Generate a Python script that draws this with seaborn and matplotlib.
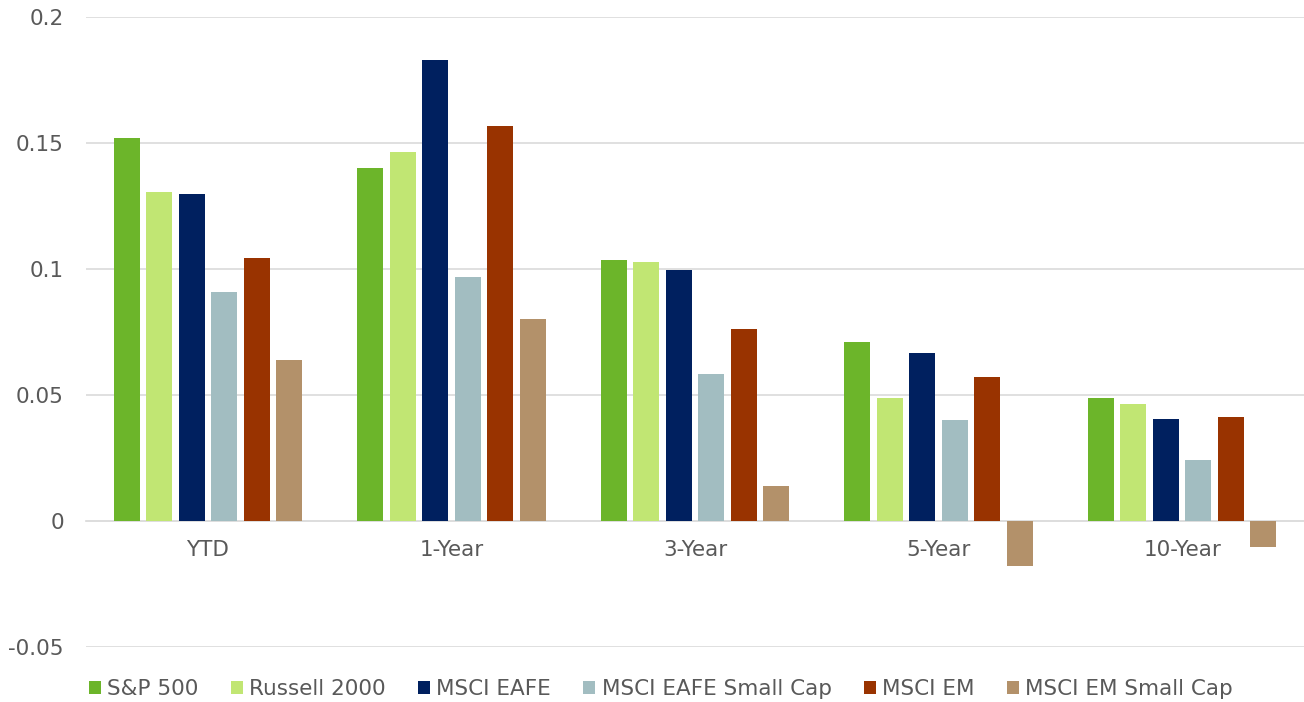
import matplotlib
matplotlib.use("Agg")
import matplotlib.pyplot as plt
import seaborn as sns
import pandas as pd
from matplotlib.ticker import FuncFormatter, MultipleLocator
from matplotlib.patches import Patch

periods = ["YTD", "1-Year", "3-Year", "5-Year", "10-Year"]
series = ["S&P 500", "Russell 2000", "MSCI EAFE", "MSCI EAFE Small Cap", "MSCI EM", "MSCI EM Small Cap"]
sp500 = [0.152, 0.140, 0.1036, 0.0709, 0.0488]
russell2000 = [0.1306, 0.1464, 0.1028, 0.0488, 0.0465]
msci_eafe = [0.1298, 0.183, 0.0996, 0.0665, 0.0406]
msci_eafe_sc = [0.0909, 0.0968, 0.0583, 0.0401, 0.0241]
msci_em = [0.1044, 0.1567, 0.0762, 0.0573, 0.0414]
msci_em_sc = [0.0639, 0.0802, 0.0139, -0.0179, -0.0105]
colors = ["#6CB52A", "#C1E673", "#00205F", "#A2BDC1", "#993300", "#B3916A"]

values = [sp500, russell2000, msci_eafe, msci_eafe_sc, msci_em, msci_em_sc]
rows = []
for s, vals in zip(series, values):
    for p, v in zip(periods, vals):
        rows.append({"Period": p, "Index": s, "Return": v})
df = pd.DataFrame(rows)

sns.set_theme(style="white")
plt.rcParams["font.family"] = ["DejaVu Sans"]
plt.rcParams["axes.unicode_minus"] = False
text_color = "#595959"

fig = plt.figure(figsize=(13.04, 7.02), dpi=100)
ax = fig.add_axes([86 / 1304, 1 - 647 / 702, 1 - 86 / 1304, (647 - 17) / 702])

sns.barplot(data=df, x="Period", y="Return", hue="Index", order=periods,
            hue_order=series, palette=colors, width=0.8, gap=0.2,
            saturation=1, edgecolor="none", linewidth=0, ax=ax, legend=False,
            errorbar=None)

ax.set_ylim(-0.05, 0.2)
ax.set_xlim(-0.5, 4.5)
ax.yaxis.set_major_locator(MultipleLocator(0.05))
ax.yaxis.set_major_formatter(FuncFormatter(lambda v, _: f"{round(v, 4):g}"))
ax.grid(axis="y", color="#DDDDDD", linewidth=1.3)
ax.set_axisbelow(True)
for sp in ax.spines.values():
    sp.set_visible(False)
ax.spines["bottom"].set_position(("data", 0))
ax.spines["bottom"].set_visible(True)
ax.spines["bottom"].set_color("#DDDDDD")
ax.spines["bottom"].set_linewidth(1.3)
ax.spines["bottom"].set_zorder(0.5)
ax.set_xlabel("")
ax.set_ylabel("")
ax.tick_params(axis="both", length=0, labelsize=15.5, labelcolor=text_color)
ax.tick_params(axis="y", pad=16)
ax.tick_params(axis="x", pad=14)

handles = [Patch(facecolor=c, edgecolor="none") for c in colors]
leg = fig.legend(handles, series, loc="center",
                 bbox_to_anchor=(0.5 + 9 / 1304, 1 - 689 / 702),
                 ncol=6, frameon=False, fontsize=15.5, handlelength=0.55,
                 handleheight=0.55, handletextpad=0.3, columnspacing=1.5,
                 labelcolor=text_color)

fig.savefig("out.png", dpi=100)
